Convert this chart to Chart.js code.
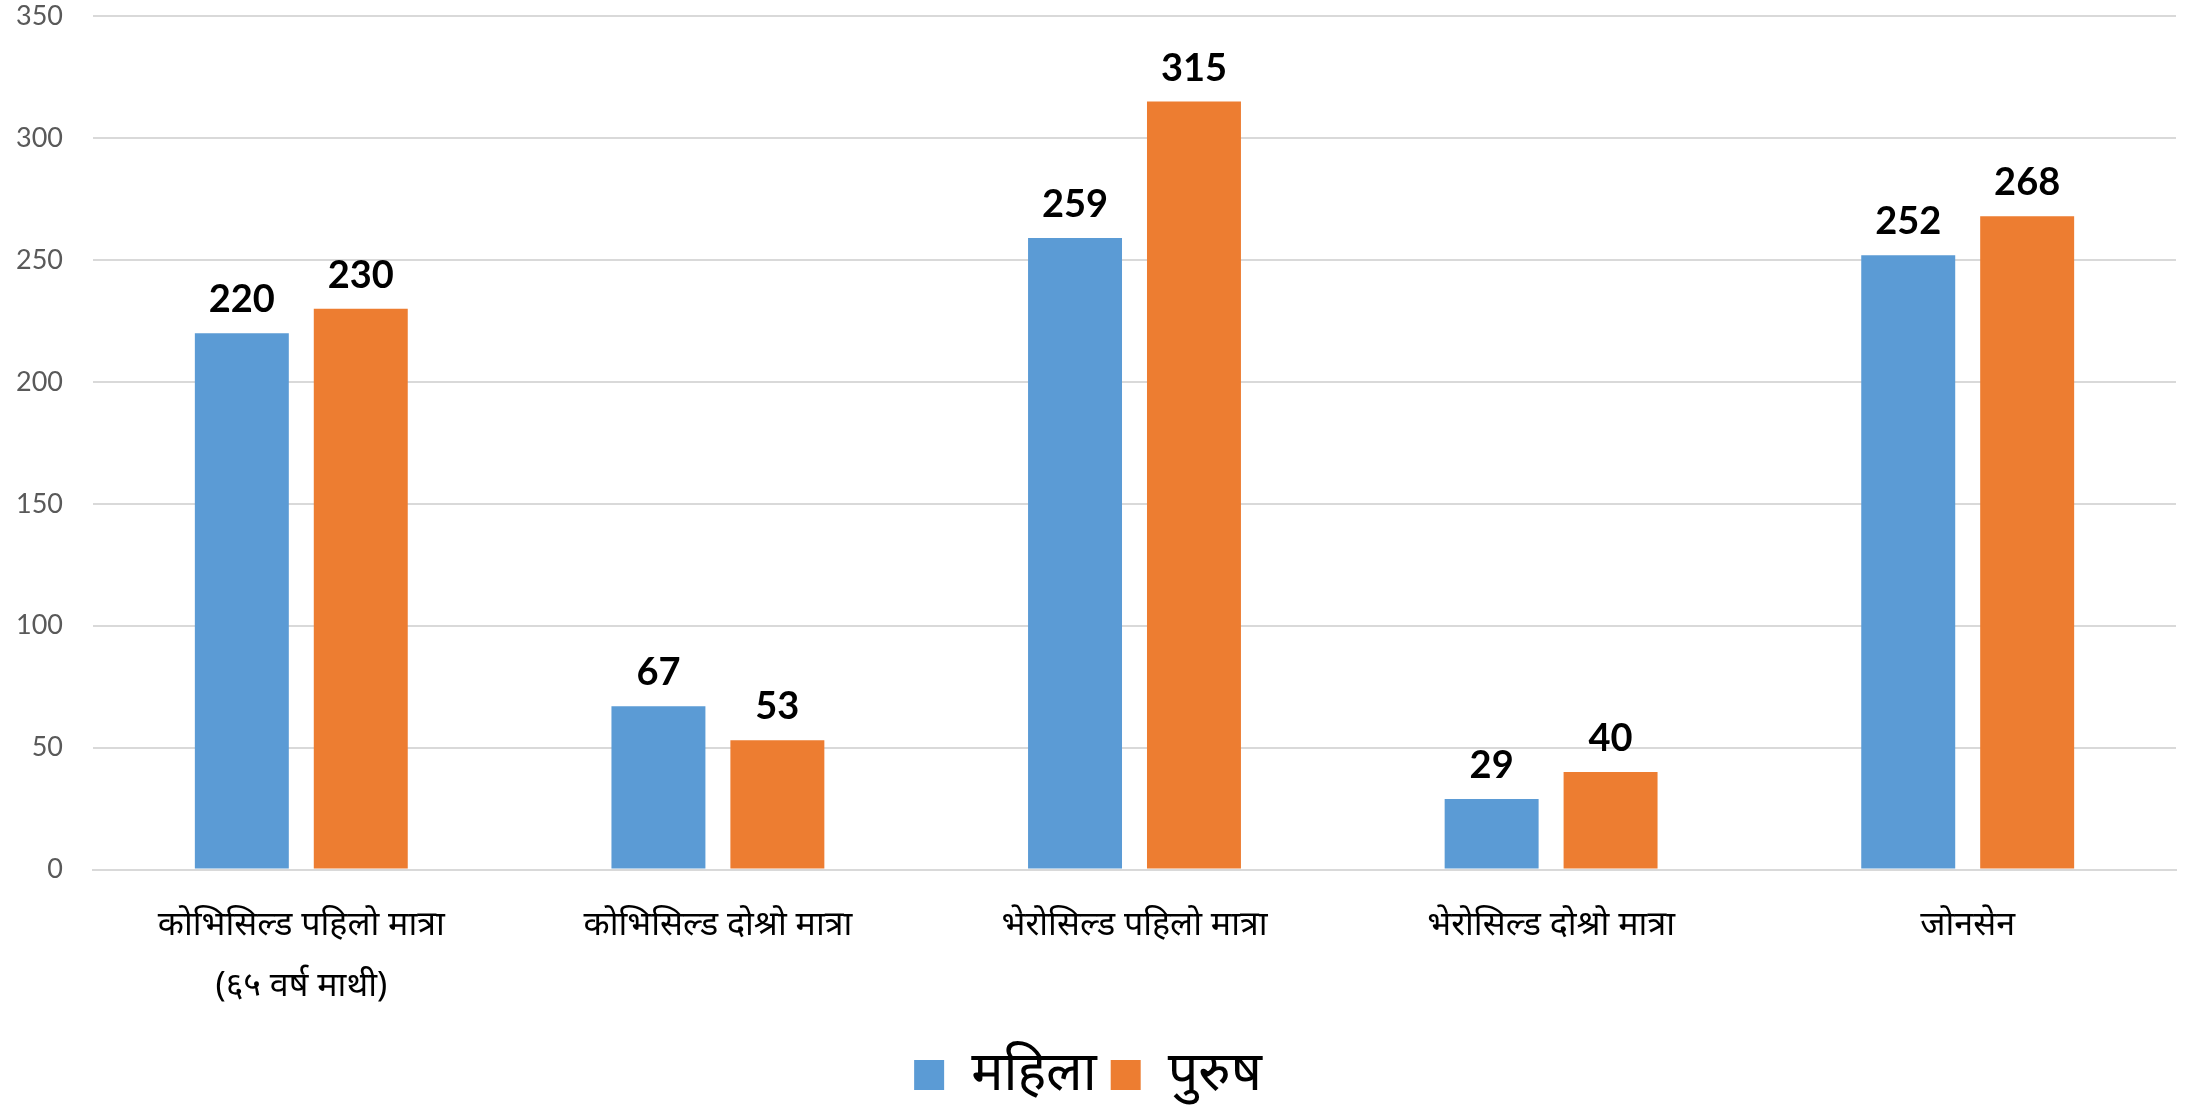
<!DOCTYPE html>
<html>
<head>
<meta charset="utf-8">
<script src="https://cdn.jsdelivr.net/npm/chart.js@4"></script>
<style>
  html, body { margin: 0; padding: 0; background: #fff; }
  #wrap { width: 2190px; height: 1112px; }
</style>
</head>
<body>
<div id="wrap"><canvas id="chart"></canvas></div>
<script>
const categories = [
  ["कोभिसिल्ड पहिलो मात्रा", "(६५ वर्ष माथी)"],
  "कोभिसिल्ड दोश्रो मात्रा",
  "भेरोसिल्ड पहिलो मात्रा",
  "भेरोसिल्ड दोश्रो मात्रा",
  "जोनसेन"
];
const womenValues = [220, 67, 259, 29, 252];
const menValues = [230, 53, 315, 40, 268];
const seriesNames = ["महिला", "पुरुष"];

// value labels above the bars
const barLabels = {
  id: "barLabels",
  afterDatasetsDraw(chart) {
    const ctx = chart.ctx;
    ctx.save();
    ctx.font = "bold 38px Lato, 'Noto Sans', sans-serif";
    ctx.fillStyle = "#000";
    ctx.textAlign = "center";
    ctx.textBaseline = "alphabetic";
    chart.data.datasets.forEach((ds, i) => {
      chart.getDatasetMeta(i).data.forEach((bar, j) => {
        ctx.fillText(ds.data[j], bar.x, bar.y - 21);
      });
    });
    ctx.restore();
  }
};

const ctx = document.getElementById("chart").getContext("2d");
new Chart(ctx, {
  type: "bar",
  data: {
    labels: categories,
    datasets: [
      {
        label: seriesNames[0],
        data: womenValues,
        backgroundColor: "#5b9bd5",
        categoryPercentage: 0.571,
        barPercentage: 0.79
      },
      {
        label: seriesNames[1],
        data: menValues,
        backgroundColor: "#ed7d31",
        categoryPercentage: 0.571,
        barPercentage: 0.79
      }
    ]
  },
  options: {
    responsive: true,
    maintainAspectRatio: false,
    animation: false,
    layout: { padding: { top: 0, right: 14, left: 0, bottom: 0 } },
    plugins: {
      tooltip: { enabled: false },
      legend: {
        position: "bottom",
        labels: {
          boxWidth: 30,
          boxHeight: 30,
          padding: 14,
          color: "#000",
          font: { size: 54, lineHeight: 1, family: "'Noto Sans', sans-serif" }
        }
      }
    },
    scales: {
      x: {
        grid: { display: false },
        border: { color: "#d9d9d9", width: 2 },
        ticks: {
          color: "#000",
          maxRotation: 0,
          padding: 17,
          font: { size: 34, lineHeight: 1.8, family: "'Noto Sans', sans-serif" }
        }
      },
      y: {
        min: 0,
        max: 350,
        afterFit(scale) { scale.width = 93; },
        grid: {
          color: "#d9d9d9",
          lineWidth: 2,
          drawTicks: true,
          tickLength: 30,
          tickColor: "rgba(0,0,0,0)"
        },
        border: { display: false },
        ticks: {
          stepSize: 50,
          color: "#595959",
          padding: 0,
          font: { size: 27, family: "Lato, 'Noto Sans', sans-serif" }
        }
      }
    }
  },
  plugins: [barLabels]
});
</script>
</body>
</html>
